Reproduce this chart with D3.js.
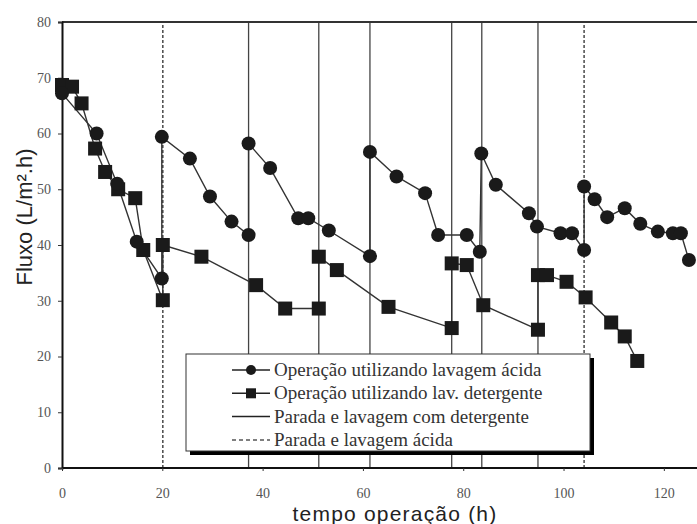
<!DOCTYPE html>
<html>
<head>
<meta charset="utf-8">
<script src="https://cdn.jsdelivr.net/npm/d3@7"></script>
<style>
  body { margin: 0; background: #fff; }
</style>
</head>
<body>
<div id="chart"></div>
<script>
// ticks
const xTicks = [0, 20, 40, 60, 80, 100, 120];
const yTicks = [0, 10, 20, 30, 40, 50, 60, 70, 80];

// Operação utilizando lavagem ácida (circles)
const acidTime = [0, 6.9, 11, 14.9, 19.9, 19.9, 25.5, 29.5, 33.8, 37.2, 37.2, 41.5, 47.1, 49.1, 53.2,
  61.4, 61.4, 66.7, 72.4, 75, 80.7, 83.3, 83.6, 86.5, 93.1, 94.7, 99.4, 101.7, 104.1, 104.1,
  106.2, 108.7, 112.2, 115.3, 118.8, 121.8, 123.4, 125];
const acidFlux = [67.2, 60, 51, 40.6, 34, 59.4, 55.5, 48.7, 44.2, 41.8, 58.2, 53.8, 44.8, 44.8, 42.6,
  38, 56.7, 52.3, 49.3, 41.8, 41.8, 38.8, 56.4, 50.8, 45.7, 43.3, 42.1, 42.1, 39.1, 50.5,
  48.2, 45, 46.6, 43.8, 42.4, 42.1, 42.1, 37.3];

// Operação utilizando lav. detergente (squares)
const detTime = [0, 2, 3.9, 6.6, 8.6, 11.2, 14.6, 16.2, 20.1, 20.1, 27.8, 38.7, 44.5, 51.2, 51.2,
  54.8, 65.1, 77.7, 77.7, 80.7, 84, 94.9, 94.9, 96.7, 100.6, 104.4, 109.5, 112.2, 114.7];
const detFlux = [68.7, 68.4, 65.4, 57.3, 53.1, 50, 48.4, 39.1, 30.1, 40, 37.9, 32.8, 28.6, 28.6, 37.9,
  35.5, 28.9, 25.1, 36.7, 36.4, 29.2, 24.8, 34.6, 34.6, 33.4, 30.6, 26.1, 23.6, 19.2];

// paradas
const detergentStops = [37.2, 51.2, 61.4, 77.7, 83.7, 94.9];
const acidStops = [20.1, 104.1];

const legendLabels = [
  "Operação utilizando lavagem ácida",
  "Operação utilizando lav. detergente",
  "Parada e lavagem com detergente",
  "Parada e lavagem ácida"
];

const width = 697, height = 524;

const svg = d3.select("#chart").append("svg")
  .attr("width", width).attr("height", height);

const x = d3.scaleLinear().domain([0, 130]).range([62, 714]);
const y = d3.scaleLinear().domain([0, 80]).range([468, 22]);

const markColor = "#1a1a1a";

// stop lines
svg.selectAll("line.det")
  .data(detergentStops)
  .enter().append("line")
  .attr("class", "det")
  .attr("x1", d => x(d)).attr("x2", d => x(d))
  .attr("y1", y(0)).attr("y2", y(80))
  .attr("stroke", "#444").attr("stroke-width", 1.3);

svg.selectAll("line.acid")
  .data(acidStops)
  .enter().append("line")
  .attr("class", "acid")
  .attr("x1", d => x(d)).attr("x2", d => x(d))
  .attr("y1", y(0)).attr("y2", y(80))
  .attr("stroke", "#555").attr("stroke-width", 1.6)
  .attr("stroke-dasharray", "3,2");

// frame
svg.append("line")
  .attr("x1", x(0)).attr("x2", width)
  .attr("y1", y(80)).attr("y2", y(80))
  .attr("stroke", "#333").attr("stroke-width", 2);

// axes
const yAxis = svg.append("g")
  .attr("transform", "translate(" + x(0) + ",0)")
  .call(d3.axisLeft(y).tickValues(yTicks).tickSize(4).tickPadding(7));

const xAxis = svg.append("g")
  .attr("transform", "translate(0," + y(0) + ")")
  .call(d3.axisBottom(x).tickValues(xTicks).tickSize(3).tickPadding(17));

[yAxis, xAxis].forEach(function(g) {
  g.select(".domain").attr("stroke", "#111").attr("stroke-width", 2);
  g.selectAll(".tick line").attr("stroke", "#333");
  g.selectAll("text")
    .attr("font-family", "'Liberation Serif', serif")
    .attr("font-size", 14)
    .attr("fill", "#555");
});
xAxis.select(".domain").attr("d", "M" + x(0) + ",0H" + width);

// series lines
const line = d3.line()
  .x(d => x(d[0]))
  .y(d => y(d[1]));

const acidData = acidTime.map((t, i) => [t, acidFlux[i]]);
const detData = detTime.map((t, i) => [t, detFlux[i]]);

svg.append("path")
  .datum(detData)
  .attr("d", line)
  .attr("fill", "none")
  .attr("stroke", "#333").attr("stroke-width", 1.4);

svg.append("path")
  .datum(acidData)
  .attr("d", line)
  .attr("fill", "none")
  .attr("stroke", "#333").attr("stroke-width", 1.4);

svg.selectAll("rect.sq")
  .data(detData)
  .enter().append("rect")
  .attr("class", "sq")
  .attr("x", d => x(d[0]) - 7)
  .attr("y", d => y(d[1]) - 7)
  .attr("width", 14).attr("height", 14)
  .attr("fill", markColor);

svg.selectAll("circle.ci")
  .data(acidData)
  .enter().append("circle")
  .attr("class", "ci")
  .attr("cx", d => x(d[0]))
  .attr("cy", d => y(d[1]))
  .attr("r", 7)
  .attr("fill", markColor);

// legend
const lg = svg.append("g").attr("transform", "translate(186,354)");
lg.append("rect")
  .attr("x", 4).attr("y", 4).attr("width", 404).attr("height", 97)
  .attr("fill", "#000");
lg.append("rect")
  .attr("x", 0).attr("y", 0).attr("width", 404).attr("height", 97)
  .attr("fill", "#fff").attr("stroke", "#333").attr("stroke-width", 1);

legendLabels.forEach(function(label, i) {
  let ry = 16 + i * 23.3;
  let row = lg.append("g").attr("transform", "translate(0," + ry + ")");
  row.append("line")
    .attr("x1", 46).attr("x2", 84)
    .attr("stroke", i === 3 ? "#555" : "#222")
    .attr("stroke-width", 1.5)
    .attr("stroke-dasharray", i === 3 ? "4,3" : null);
  if (i === 0) {
    row.append("circle").attr("cx", 65).attr("r", 5).attr("fill", markColor);
  } else if (i === 1) {
    row.append("rect").attr("x", 60).attr("y", -5).attr("width", 10).attr("height", 10).attr("fill", markColor);
  }
  row.append("text")
    .attr("x", 88).attr("y", 6)
    .attr("font-family", "'Liberation Serif', serif")
    .attr("font-size", 19)
    .attr("fill", "#333")
    .text(label);
});

// axis titles
svg.append("text")
  .attr("transform", "translate(32,217) rotate(-90)")
  .attr("text-anchor", "middle")
  .attr("font-family", "'Liberation Sans', Arial, sans-serif")
  .attr("font-size", 22)
  .attr("fill", "#222")
  .text("Fluxo (L/m².h)");

svg.append("text")
  .attr("x", 395).attr("y", 521)
  .attr("text-anchor", "middle")
  .attr("font-family", "'Liberation Sans', Arial, sans-serif")
  .attr("font-size", 21)
  .attr("letter-spacing", 1.2)
  .attr("fill", "#222")
  .text("tempo operação (h)");
</script>
</body>
</html>
